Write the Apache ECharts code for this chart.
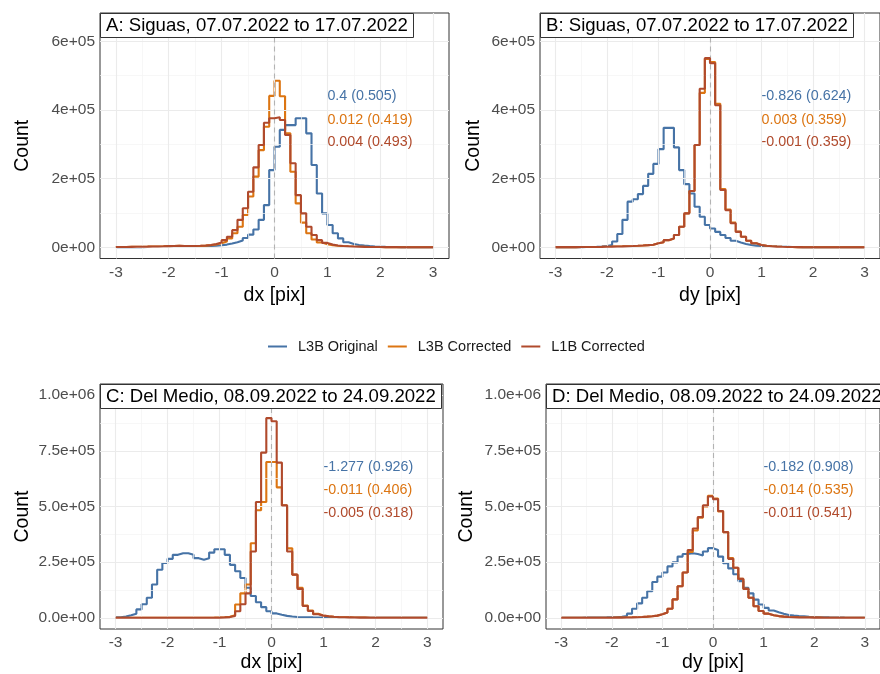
<!DOCTYPE html>
<html><head><meta charset="utf-8">
<script src="https://cdn.jsdelivr.net/npm/echarts@6/dist/echarts.min.js"></script>
<style>html,body{margin:0;padding:0;background:#fff}#c{width:880px;height:674px}</style>
</head><body><div id="c"></div>
<script>
// ---- data ----
const binStart = -3, binWidth = 0.1, binCount = 60;
const seriesNames = ['L3B Original', 'L3B Corrected', 'L1B Corrected'];
const seriesColors = ['#4673a6', '#dc7512', '#b04a2c'];
const panelTitles = ['A: Siguas, 07.07.2022 to 17.07.2022', 'B: Siguas, 07.07.2022 to 17.07.2022',
                     'C: Del Medio, 08.09.2022 to 24.09.2022', 'D: Del Medio, 08.09.2022 to 24.09.2022'];
const xAxisTitles = ['dx [pix]', 'dy [pix]', 'dx [pix]', 'dy [pix]'];
const xTicks = [-3, -2, -1, 0, 1, 2, 3];
const xMinor = [-2.5, -1.5, -0.5, 0.5, 1.5, 2.5];
const yTicksTop = [0, 200000, 400000, 600000];
const yLabelsTop = ['0e+00', '2e+05', '4e+05', '6e+05'];
const yMinorTop = [100000, 300000, 500000];
const yTicksBottom = [0, 250000, 500000, 750000, 1000000];
const yLabelsBottom = ['0.0e+00', '2.5e+05', '5.0e+05', '7.5e+05', '1.0e+06'];
const yMinorBottom = [125000, 375000, 625000, 875000];
const yRangeTop = [-32500, 682500];
const yRangeBottom = [-50000, 1050000];

// statistics text: mean (sd)
const statsA = ['0.4 (0.505)', '0.012 (0.419)', '0.004 (0.493)'];
const statsB = ['-0.826 (0.624)', '0.003 (0.359)', '-0.001 (0.359)'];
const statsC = ['-1.277 (0.926)', '-0.011 (0.406)', '-0.005 (0.318)'];
const statsD = ['-0.182 (0.908)', '-0.014 (0.535)', '-0.011 (0.541)'];
const statX = 1;
const statYTop = [440000, 372000, 307000];
const statYBottom = [676000, 573000, 471000];

// Panel A (dx, Siguas)
const aOriginal = [500,500,600,600,700,800,900,1000,1100,1200,
  1400,1600,1800,2000,2300,2700,3200,3800,4600,6000,
  8000,11000,15000,20000,27000,37000,52000,80000,123000,225000,
  293000,342000,356000,356000,376000,376000,332000,240000,157000,99000,
  65000,41000,26000,15000,10000,7000,5000,3500,2500,1800,
  1300,1000,800,600,500,400,300,300,200,200];
const aL3B = [1000,1200,1400,1600,1800,2000,2300,2600,3000,3500,
  4000,4200,4000,3800,3800,4200,5000,6500,8500,12000,
  17000,26000,41000,60000,94000,148000,206000,283000,351000,441000,
  485000,440000,332000,220000,128000,72000,41000,23000,14000,9000,
  6000,4500,3500,2800,2200,1800,1500,1200,1000,800,
  700,600,500,400,350,300,250,200,200,150];
const aL1B = [1000,1200,1400,1600,1800,2000,2300,2600,3000,3500,
  4000,4200,4000,3800,4000,4600,5500,7000,10000,14000,
  21000,31000,50000,80000,114000,162000,233000,298000,363000,376000,
  379000,371000,327000,245000,152000,99000,60000,36000,21000,13000,
  8000,5500,4000,3000,2400,1900,1500,1200,1000,800,
  700,600,500,400,350,300,250,200,200,150];

// Panel B (dy, Siguas)
const bOriginal = [300,300,400,500,600,800,1000,1400,2000,3500,
  7000,17000,39000,80000,133000,140000,155000,179000,214000,243000,
  286000,348000,348000,291000,225000,184000,157000,118000,89000,65000,
  55000,45000,36000,27000,19000,14000,10000,7000,5000,4000,
  3000,2500,2000,1600,1300,1000,800,700,600,500,
  400,350,300,250,200,200,150,150,100,100];
const bL3B = [500,500,600,700,800,900,1000,1200,1400,1700,
  2000,2400,2800,3300,3900,4600,5400,6400,7500,12000,
  15000,21000,26000,36000,60000,99000,164000,298000,450000,549000,
  540000,418000,170000,110000,72000,46000,31000,19000,12000,7000,
  4500,3000,2200,1600,1200,900,700,550,450,350,
  300,250,200,180,150,120,100,100,80,80];
const bL1B = [500,500,600,700,800,900,1000,1200,1400,1700,
  2000,2400,2800,3300,3900,4600,5400,6400,7500,12000,
  15000,21000,26000,36000,60000,99000,164000,298000,462000,551000,
  536000,414000,167000,108000,70000,45000,31000,19000,12000,7000,
  4500,3000,2200,1600,1200,900,700,550,450,350,
  300,250,200,180,150,120,100,100,80,80];

// Panel C (dx, Del Medio)
const cOriginal = [3000,6000,12000,19000,38000,61000,90000,150000,216000,246000,
  265000,283000,290000,290000,283000,268000,261000,268000,293000,308000,
  308000,283000,238000,209000,179000,135000,98000,70000,48000,30000,
  20000,14000,9000,6000,4000,3000,2500,2000,1600,1300,
  1100,900,800,700,600,500,450,400,350,300,
  280,260,240,220,200,200,180,160,150,150];
const cL3B = [500,500,500,500,500,500,500,500,500,500,
  500,500,500,500,500,600,700,800,1000,1500,
  2500,5000,12000,60000,110000,150000,335000,483000,520000,700000,
  700000,586000,505000,312000,194000,135000,55000,33000,18000,11000,
  7000,5000,3500,2500,2000,1500,1200,1000,800,700,
  600,500,450,400,350,300,300,250,250,200];
const cL1B = [300,300,300,300,300,300,300,300,300,300,
  300,300,300,300,300,400,500,600,800,1200,
  2000,3500,8000,30000,61000,110000,298000,520000,742000,897000,
  883000,697000,505000,298000,194000,130000,53000,31000,16000,10000,
  7000,5000,3500,2500,2000,1500,1200,1000,800,700,
  600,500,450,400,350,300,300,250,250,200];

// Panel D (dy, Del Medio)
const dOriginal = [500,600,700,800,1000,1200,1500,1800,2200,2800,
  3000,4500,8000,19000,41000,65000,90000,120000,161000,185000,
  204000,231000,249000,275000,287000,290000,287000,280000,298000,313000,
  305000,275000,245000,222000,196000,165000,135000,110000,82000,60000,
  45000,33000,25000,18000,13000,10000,8000,6500,5000,4000,
  3000,2500,2000,1600,1300,1000,800,700,600,500];
const dL3B = [300,300,300,400,400,500,500,600,700,800,
  1000,1200,1500,2000,2800,4000,5500,7500,10000,16000,
  24000,41000,83000,142000,204000,296000,392000,450000,500000,548000,
  536000,478000,385000,268000,225000,175000,130000,90000,52000,31000,
  19000,12000,8000,5500,4000,3000,2300,1800,1400,1100,
  900,700,600,500,400,350,300,250,200,200];
const dL1B = [300,300,300,400,400,500,500,600,700,800,
  1000,1200,1500,2000,2800,4000,5500,7500,10000,16000,
  24000,41000,83000,142000,204000,305000,401000,453000,505000,545000,
  533000,480000,385000,265000,225000,175000,130000,90000,52000,31000,
  19000,12000,8000,5500,4000,3000,2300,1800,1400,1100,
  900,700,600,500,400,350,300,250,200,200];

const panelData = [[aOriginal, aL3B, aL1B], [bOriginal, bL3B, bL1B], [cOriginal, cL3B, cL1B], [dOriginal, dL3B, dL1B]];
const panelStats = [statsA, statsB, statsC, statsD];

// ---- layout ----
const FONT = '"Liberation Sans", Arial, Helvetica, sans-serif';
const grids = [
  {left: 100, top: 13, width: 349, height: 245.5},
  {left: 540, top: 13, width: 349, height: 245.5},
  {left: 100, top: 384, width: 343, height: 247},
  {left: 546, top: 384, width: 343, height: 247}
];
const yNameGap = [67, 56, 67, 69];
const xNameGap = [27, 27, 24, 24];

function binEdges() {
  const e = [];
  for (let i = 0; i <= binCount; i++) e.push(+(binStart + i * binWidth).toFixed(2));
  return e;
}
const edges = binEdges();
function stepData(vals) {
  const d = vals.map((v, i) => [edges[i], v]);
  d.push([edges[binCount], vals[vals.length - 1]]);
  return d;
}

const option = {
  animation: false,
  textStyle: {fontFamily: FONT},
  title: panelTitles.map((t, i) => ({
    text: t, left: grids[i].left, top: grids[i].top,
    backgroundColor: '#ffffff', borderColor: '#333333', borderWidth: 1,
    padding: [3, 6, 2, 6], itemGap: 0,
    textStyle: {fontSize: 18.6, fontWeight: 'normal', color: '#000', lineHeight: 20, fontFamily: FONT},
    z: 20
  })),
  legend: {
    data: seriesNames, left: 263, top: 334, icon: 'rect', itemWidth: 19, itemHeight: 2,
    itemGap: 10, textStyle: {fontSize: 14.5, color: '#1a1a1a', padding: [0, 0, 0, 6], fontFamily: FONT}
  },
  grid: grids.map(g => Object.assign({show: true, backgroundColor: '#fff', borderColor: '#333', borderWidth: 1}, g)),
  xAxis: grids.map((g, i) => ({
    gridIndex: i, type: 'value', min: -3.3, max: 3.3,
    axisLine: {show: false},
    axisTick: {show: true, customValues: xTicks, length: 4, lineStyle: {color: '#333'}},
    axisLabel: {customValues: xTicks, color: '#4d4d4d', fontSize: 15.5, margin: 6, fontFamily: FONT},
    splitLine: {show: false},
    name: xAxisTitles[i], nameLocation: 'middle', nameGap: xNameGap[i],
    nameTextStyle: {fontSize: 19.5, color: '#000', fontFamily: FONT}
  })),
  yAxis: grids.map((g, i) => {
    const top = i < 2;
    const ticks = top ? yTicksTop : yTicksBottom;
    const labels = top ? yLabelsTop : yLabelsBottom;
    const rng = top ? yRangeTop : yRangeBottom;
    return {
      gridIndex: i, type: 'value', min: rng[0], max: rng[1],
      axisLine: {show: false},
      axisTick: {show: true, customValues: ticks, length: 4, lineStyle: {color: '#333'}},
      axisLabel: {customValues: ticks, color: '#4d4d4d', fontSize: 15.5, margin: 5, fontFamily: FONT,
        formatter: v => labels[ticks.indexOf(v)]},
      splitLine: {show: false},
      name: 'Count', nameLocation: 'middle', nameGap: yNameGap[i],
      nameTextStyle: {fontSize: 19.5, color: '#000', fontFamily: FONT, padding: [0, 20, 0, 0]}
    };
  }),
  series: []
};

const majorStyle = {color: '#ebebeb', width: 1.1, type: 'solid'};
const minorStyle = {color: '#f3f3f3', width: 0.7, type: 'solid'};
grids.forEach((g, i) => {
  const top = i < 2;
  const lines = [];
  xMinor.forEach(v => lines.push({xAxis: v, lineStyle: minorStyle}));
  (top ? yMinorTop : yMinorBottom).forEach(v => lines.push({yAxis: v, lineStyle: minorStyle}));
  xTicks.forEach(v => lines.push({xAxis: v, lineStyle: majorStyle}));
  (top ? yTicksTop : yTicksBottom).forEach(v => lines.push({yAxis: v, lineStyle: majorStyle}));
  option.series.push({
    type: 'line', name: 'grid' + i, xAxisIndex: i, yAxisIndex: i, data: [], silent: true, z: 1,
    markLine: {silent: true, symbol: 'none', label: {show: false}, animation: false, data: lines}
  });
  option.series.push({
    type: 'line', name: 'zero' + i, xAxisIndex: i, yAxisIndex: i, data: [], silent: true, z: 2,
    markLine: {silent: true, symbol: 'none', label: {show: false}, animation: false,
      data: [{xAxis: 0, lineStyle: {color: '#b3b3b3', width: 1.1, type: [5, 4]}}]}
  });
  panelData[i].forEach((vals, s) => {
    option.series.push({
      type: 'line', name: seriesNames[s], xAxisIndex: i, yAxisIndex: i,
      step: 'end', showSymbol: false, symbol: 'none', z: 3 + s,
      lineStyle: {color: seriesColors[s], width: 2.1}, itemStyle: {color: seriesColors[s]},
      data: stepData(vals)
    });
  });
  const sy = top ? statYTop : statYBottom;
  option.series.push({
    type: 'line', name: 'stats' + i, xAxisIndex: i, yAxisIndex: i, data: [], silent: true, z: 10,
    markPoint: {
      silent: true, symbol: 'circle', symbolSize: 0, animation: false,
      data: panelStats[i].map((t, s) => ({
        coord: [statX, sy[s]], symbolSize: 0,
        label: {show: true, formatter: t, position: 'right', distance: 0, color: seriesColors[s],
          fontSize: 14.3, fontFamily: FONT}
      }))
    }
  });
});

const chart = echarts.init(document.getElementById('c'), null, {renderer: 'canvas'});
chart.setOption(option);
</script>
</body></html>
